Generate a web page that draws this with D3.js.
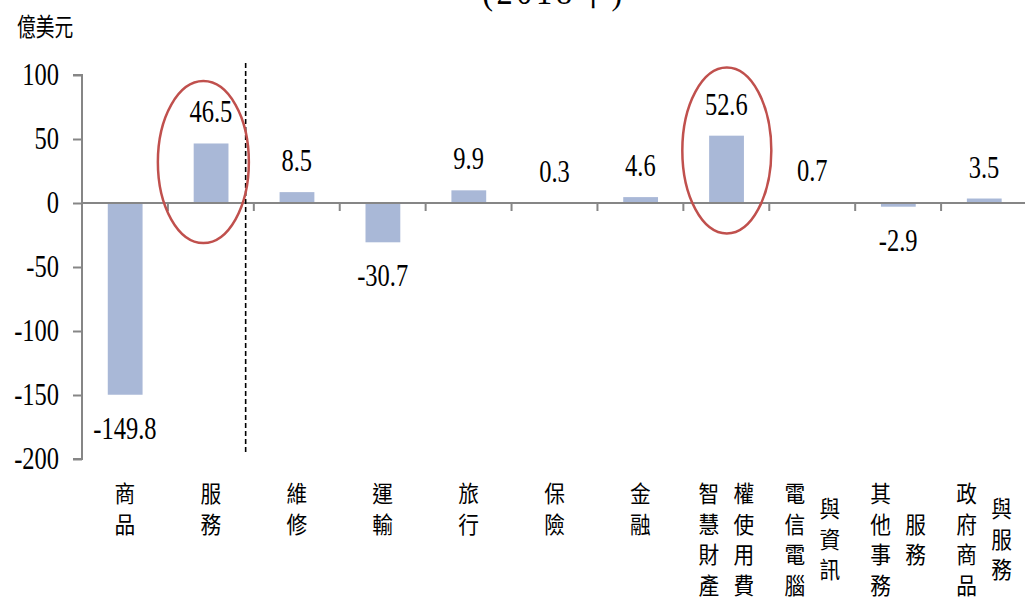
<!DOCTYPE html>
<html><head><meta charset="utf-8">
<script src="https://cdn.jsdelivr.net/npm/d3@7"></script>
<style>body{margin:0;background:#fff}svg{display:block}</style>
</head><body>
<svg id="c" width="1025" height="603"></svg>
<script>
const categories = ["商品","服務","維修","運輸","旅行","保險","金融","智慧財產權使用費","電信電腦與資訊","其他事務服務","政府商品與服務"];
const labelColumns = [["商品"],["服務"],["維修"],["運輸"],["旅行"],["保險"],["金融"],["智慧財產","權使用費"],["電信電腦","與資訊"],["其他事務","服務"],["政府商品","與服務"]];
const values = [-149.8,46.5,8.5,-30.7,9.9,0.3,4.6,52.6,0.7,-2.9,3.5];
const yTicks = [100,50,0,-50,-100,-150,-200];
const highlighted = ["服務","智慧財產權使用費"];
const unitLabel = "億美元";
const titleText = "(2018年)";

const svg = d3.select("#c");
const serif = "'Liberation Serif','Times New Roman',serif";
const cjk = "'Noto Sans CJK TC','Noto Sans CJK SC',sans-serif";
const axisColor = "#868686";
const barColor = "#a9b8d7";
const SX = 0.79;

const x = d3.scaleBand().domain(categories).range([82, 1027]).padding(0);
const y = d3.scaleLinear().domain([-200, 100]).range([459, 75]);
const bw = x.bandwidth();

function sText(px, py, txt, size, anchor, font, sx) {
  const g = svg.append("g").attr("transform", `translate(${px},${py}) scale(${sx},1)`);
  const t = g.append("text").attr("x", 0).attr("y", 0).attr("text-anchor", anchor)
    .attr("font-family", font).attr("font-size", size).attr("fill", "#000").text(txt);
  return t;
}

// title (cut off at top, as in the reference)
sText(554, 4, titleText, 36, "middle", serif, 0.9).attr("letter-spacing", 4);
// unit
sText(17, 36, unitLabel, 25, "start", cjk, 0.75);

// bars
svg.append("g").selectAll("rect").data(values).join("rect")
  .attr("x", (d, i) => x(categories[i]) + bw * 0.3)
  .attr("width", bw * 0.405)
  .attr("y", d => y(Math.max(0, d)))
  .attr("height", d => Math.abs(y(d) - y(0)))
  .attr("fill", barColor);

// y axis
const yAxis = d3.axisLeft(y).tickValues(yTicks).tickSize(9).tickFormat(d3.format("d"));
const ga = svg.append("g").attr("transform", "translate(82,0)").call(yAxis);
ga.select(".domain").attr("stroke", axisColor).attr("stroke-width", 2).attr("d", `M-9,${y(100)}H0V${y(-200)}H-9`);
ga.selectAll(".tick line").attr("stroke", axisColor).attr("stroke-width", 2);
ga.selectAll(".tick text").remove();
yTicks.forEach(t => sText(59, y(t) + 10, String(t), 31, "end", serif, SX));

// x axis line and ticks
svg.append("line").attr("x1", 82).attr("x2", 1027).attr("y1", y(0)).attr("y2", y(0))
  .attr("stroke", axisColor).attr("stroke-width", 2);
svg.append("g").selectAll("line").data(categories.slice(1).map(c => x(c))).join("line")
  .attr("x1", d => d).attr("x2", d => d).attr("y1", y(0)).attr("y2", y(0) + 8)
  .attr("stroke", axisColor).attr("stroke-width", 2);

// value labels
values.forEach((v, i) => {
  const cx = x(categories[i]) + bw / 2;
  const ty = v >= 0 ? y(v) - 21 : y(v) + 44;
  sText(cx, ty, v.toFixed(1), 31, "middle", serif, SX);
});

// category labels (vertical columns)
const pitch = 30.5;
labelColumns.forEach((cols, i) => {
  const cx = x(categories[i]) + bw / 2;
  const maxLen = d3.max(cols, c => c.length);
  const colGap = cols.length > 1 ? 35 : 0;
  cols.forEach((col, j) => {
    const colX = cx + (j - (cols.length - 1) / 2) * colGap;
    const off = cols.length > 1 ? (maxLen - col.length) * pitch / 2 : 0;
    Array.from(col).forEach((ch, k) => {
      sText(colX, 502 + off + k * pitch, ch, 23, "middle", cjk, 0.9);
    });
  });
});

// dashed separator between goods and services breakdown
const sepX = x(categories[2]) - bw * 0.095;
svg.append("line").attr("x1", sepX).attr("x2", sepX).attr("y1", 63).attr("y2", 453)
  .attr("stroke", "#000").attr("stroke-width", 1.6).attr("stroke-dasharray", "5,3");

// highlight ellipses
const ell = [{cat: "服務", dx: -7.5, cv: 32, rx: 45.5, ry: 81}, {cat: "智慧財產權使用費", dx: 0.5, cv: 41, rx: 44.5, ry: 83}];
svg.append("g").selectAll("ellipse").data(ell.filter(e => highlighted.includes(e.cat))).join("ellipse")
  .attr("cx", d => x(d.cat) + bw / 2 + d.dx)
  .attr("cy", d => y(d.cv))
  .attr("rx", d => d.rx).attr("ry", d => d.ry)
  .attr("fill", "none").attr("stroke", "#c0504d").attr("stroke-width", 2.5);
</script>
</body></html>
